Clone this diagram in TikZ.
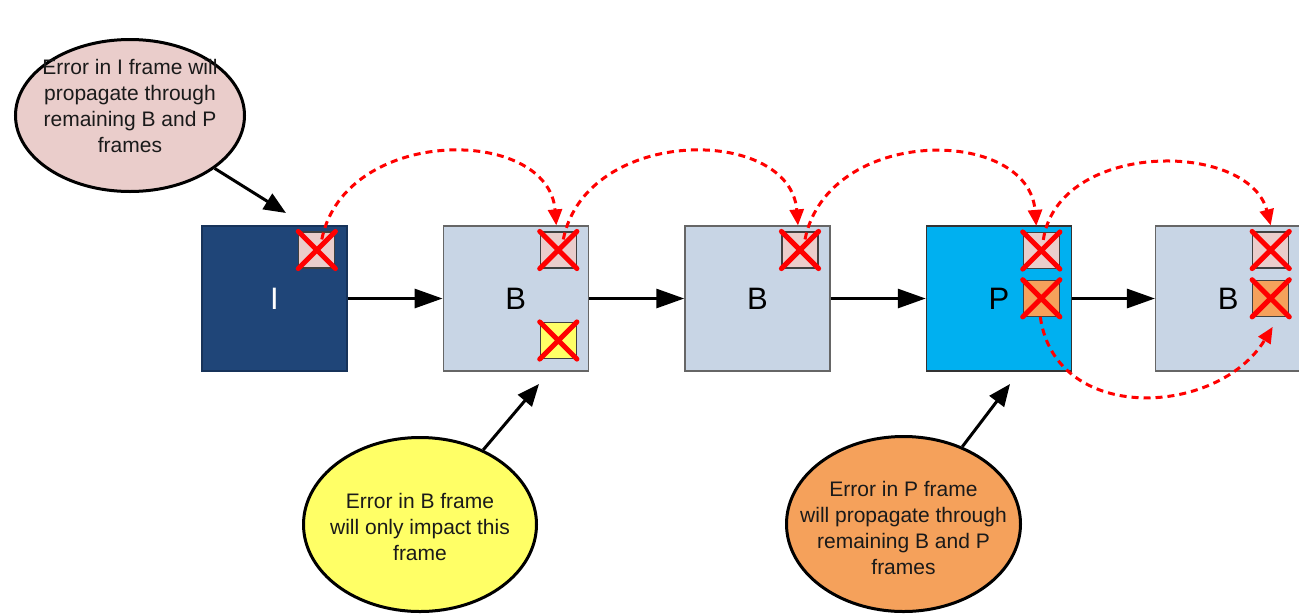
\documentclass[tikz,border=0pt]{standalone}
\usepackage{fontspec}
\setmainfont{Liberation Sans}
\usetikzlibrary{arrows.meta,shapes.geometric}

\definecolor{ifill}{HTML}{1F4578}
\definecolor{iedge}{HTML}{17335A}
\definecolor{bfill}{HTML}{C8D5E5}
\definecolor{bedge}{HTML}{666666}
\definecolor{pfill}{HTML}{00B0F0}
\definecolor{pedge}{HTML}{333333}
\definecolor{errpink}{HTML}{EACDCB}
\definecolor{erryellow}{HTML}{FFFF66}
\definecolor{errorange}{HTML}{F5A15B}
\definecolor{errred}{HTML}{FF0000}
\definecolor{boxedge}{HTML}{404040}
\definecolor{textdark}{HTML}{1A1A1A}

\begin{document}
\begin{tikzpicture}[x=1pt,y=-1pt,
  frame/.style={draw=bedge, fill=bfill, line width=1.5pt, minimum size=145pt,
    inner sep=0pt, font=\fontsize{31}{31}\selectfont},
  errbox/.style={draw=boxedge, line width=1.2pt, minimum size=36pt, inner sep=0pt},
  cross/.style={draw=errred, line width=5pt, line cap=round},
  flow/.style={line width=3pt, -{Triangle[length=28pt,width=19pt]}},
  prop/.style={draw=errred, line width=3pt, dash pattern=on 7pt off 5pt,
    -{Triangle[length=16pt,width=14pt,fill=errred]}},
  callout/.style={ellipse, draw=black, line width=3pt, inner sep=0pt},
  note/.style={align=center, font=\fontsize{21}{26}\selectfont, text=textdark},
  pointer/.style={line width=3pt, -{Triangle[length=22pt,width=18pt]}},
]
\useasboundingbox (0,0) rectangle (1299,614);

% frame sequence
\node[frame, fill=ifill, draw=iedge, text=white] (fI) at (274.5,298.5) {I};
\node[frame] (fB1) at (515.8,298.5) {B};
\node[frame] (fB2) at (757.5,298.5) {B};
\node[frame, fill=pfill, draw=pedge] (fP) at (999,298.5) {P};
\node[frame] (fB3) at (1228.2,298.5) {B};

% prediction order
\draw[flow] (fI.east) -- (fB1.west);
\draw[flow] (fB1.east) -- (fB2.west);
\draw[flow] (fB2.east) -- (fP.west);
\draw[flow] (fP.east) -- (fB3.west);

% corrupted blocks
\node[errbox, fill=errpink] (eI) at (316.8,250) {};
\node[errbox, fill=errpink] (eB1) at (558.3,250) {};
\node[errbox, fill=erryellow] (eB1b) at (558.3,340.5) {};
\node[errbox, fill=errpink] (eB2) at (800,250) {};
\node[errbox, fill=errpink] (ePa) at (1041.3,250.5) {};
\node[errbox, fill=errorange] (ePb) at (1041.3,298.3) {};
\node[errbox, fill=errpink] (eB3a) at (1270.7,250) {};
\node[errbox, fill=errorange] (eB3b) at (1270.7,298.3) {};

\foreach \b in {eI,eB1,eB1b,eB2,ePa,ePb,eB3a,eB3b}
  \draw[cross] (\b.north west) -- (\b.south east) (\b.south west) -- (\b.north east);

% error propagation
\draw[prop] ([shift={(5,8)}]eI.north) .. controls +(23,-114) and +(-8,-100) .. ([shift={(-2,-6)}]eB1.north);
\draw[prop] ([shift={(5,8)}]eB1.north) .. controls +(23,-114) and +(-8,-100) .. ([shift={(-2,-6)}]eB2.north);
\draw[prop] ([shift={(5,8)}]eB2.north) .. controls +(23,-114) and +(-8,-100) .. ([shift={(-5,-6)}]ePa.north);
\draw[prop] ([shift={(2,8)}]ePa.north) .. controls +(15,-100) and +(-22,-85) .. ([shift={(0,-6)}]eB3a.north);
\draw[prop] ([shift={(-1,0)}]ePb.south) .. controls +(15,108) and +(-55,90) .. ([shift={(2,10)}]eB3b.south);

% callouts
\node[callout, fill=errpink, minimum width=229pt, minimum height=152pt] (cI) at (130,115.5) {};
\node[note] (tI) at (130,105.5) {Error in I frame will\\propagate through\\remaining B and P\\frames};
\coordinate (pI) at (286,213);
\draw[pointer] (cI) -- (pI);

\node[callout, fill=erryellow, minimum width=233pt, minimum height=174pt] (cB) at (420,524.5) {};
\node[note] (tB) at (420,526.7) {Error in B frame\\will only impact this\\frame};
\coordinate (pB) at (539,384);
\draw[pointer] (cB) -- (pB);

\node[callout, fill=errorange, minimum width=234pt, minimum height=175pt] (cP) at (903.5,524) {};
\node[note] (tP) at (903.5,528) {Error in P frame\\will propagate through\\remaining B and P\\frames};
\coordinate (pP) at (1010,384);
\draw[pointer] (cP) -- (pP);
\end{tikzpicture}
\end{document}
